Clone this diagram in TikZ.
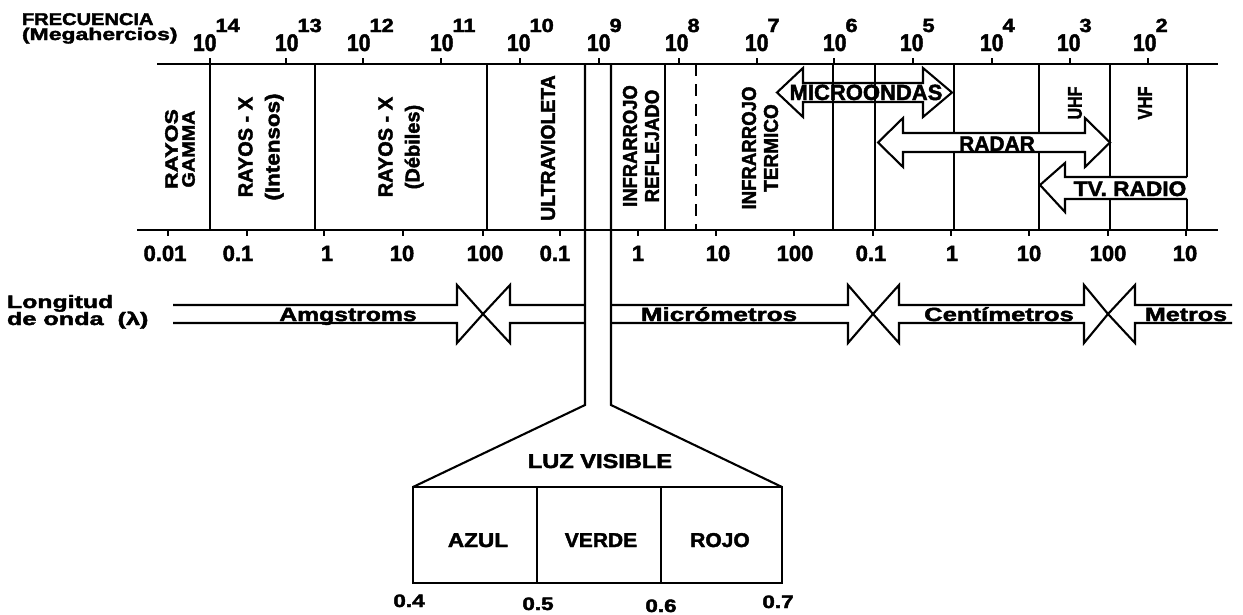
\documentclass[tikz,border=0pt]{standalone}
\usepackage{fontspec}
\setmainfont{Liberation Sans}[BoldFeatures={FakeBold=2}]
\usepackage{graphicx}
\newcommand{\sx}[2]{\scalebox{#1}[1]{#2}}
\newcommand{\fsz}[2]{\fontsize{#1}{#2}\selectfont}
\begin{document}
\begin{tikzpicture}[x=1pt,y=-1pt,line width=2.1pt,line join=miter,
  lbl/.style={inner sep=0pt,outer sep=0pt},
  fnt/.style args={#1/#2}{font=\fontsize{#1}{#2}\selectfont\bfseries},
  vlbl/.style={lbl,rotate=90,align=center},
  dsh/.style={dash pattern=on 12pt off 8pt}]
\useasboundingbox[fill=white] (0,0) rectangle (1243,614);
% axis lines and ticks
\draw (157,64) -- (1218,64);
\draw (137,230) -- (1218,230);
\foreach \x in {210,286,363,441,520,599,679,757,834,913,992,1070,1148} \draw (\x,64) -- (\x,58);
\foreach \x in {168,247,324,403,483,560,638,716,794,873,951,1029,1108,1186} \draw (\x,230) -- (\x,236);
% region separators
\foreach \x in {210,315,487,665,833,875,954,1039,1110} \draw (\x,64) -- (\x,230);
\draw (1187,64) -- (1187,177);
\draw (1187,199) -- (1187,230);
\draw[dsh] (696,64) -- (696,230);
% visible light column and box
\draw (585,64) -- (585,405) -- (413,487);
\draw (611,64) -- (611,405) -- (782,487);
\draw (413,487) rectangle (782,583);
\draw (537,487) -- (537,583);
\draw (661,487) -- (661,583);
% microondas arrow
\draw (777,92.5) -- (803,68) -- (803,83) -- (923,83) -- (923,68) -- (952,92.5) -- (923,117) -- (923,102) -- (803,102) -- (803,117) -- cycle;
% radar arrow
\draw[fill=white] (878,142.5) -- (903,118) -- (903,133) -- (1085,133) -- (1085,118) -- (1110,142.5) -- (1085,167) -- (1085,152) -- (903,152) -- (903,167) -- cycle;
% tv radio arrow
\fill[white] (1040,185) -- (1065,163) -- (1065,177) -- (1187,177) -- (1187,199) -- (1065,199) -- (1065,212) -- cycle;
\draw (1187,177) -- (1065,177) -- (1065,163) -- (1040,185) -- (1065,212) -- (1065,199) -- (1187,199);
% wavelength arrows
\draw (173,305) -- (457,305) -- (457,285) -- (483,314) -- (457,343) -- (457,323) -- (173,323);
\draw (585,305) -- (510,305) -- (510,285) -- (483,314) -- (510,343) -- (510,323) -- (585,323);
\draw (611,305) -- (848,305) -- (848,285) -- (873,314) -- (848,343) -- (848,323) -- (611,323);
\draw (873,314) -- (899,285) -- (899,305) -- (1084,305) -- (1084,285) -- (1108,314) -- (1084,343) -- (1084,323) -- (899,323) -- (899,343) -- cycle;
\draw (1232,305) -- (1135,305) -- (1135,285) -- (1108,314) -- (1135,343) -- (1135,323) -- (1232,323);
% header
\node[lbl,fnt=17/17,anchor=base west] (frec) at (22,25) {\sx{1.18}{FRECUENCIA}};
\node[lbl,fnt=17/17,anchor=base west] (mhz) at (22,40) {\sx{1.35}{(Megahercios)}};
\foreach \xl/\e [count=\i] in {193/14,275/13,347/12,430/11,507/10,587/9,665/8,745/7,823/6,900/5,980/4,1057/3,1133/2}
  \node[lbl,fnt=24/24,anchor=base west] (f\i) at (\xl,51) {\sx{0.88}{10}\kern-1pt\raisebox{19pt}{\fsz{19}{19}\sx{1.15}{\e}}};
\foreach \x/\t [count=\i] in {165/0.01,238/0.1,327/1,402/10,485/100,555/0.1,638/1,718/10,795/100,871/0.1,952/1,1029/10,1108/100,1185/10}
  \node[lbl,fnt=22/22,anchor=base] (w\i) at (\x,261) {\t};
% rotated region labels
\node[vlbl,fnt=18/17] (gamma) at (180,149) {\sx{1.28}{RAYOS}\\\sx{1.1}{GAMMA}};
\node[vlbl,fnt=20/27] (xint) at (261,147) {RAYOS - X\\\sx{1.12}{(Intensos)}};
\node[vlbl,fnt=20/27] (xdeb) at (401,147) {RAYOS - X\\(Débiles)};
\node[vlbl,fnt=20/20] (uv) at (548,148) {\sx{0.97}{ULTRAVIOLETA}};
\node[vlbl,fnt=20/22] (irr) at (641,146) {\sx{0.92}{INFRARROJO}\\\sx{0.93}{REFLEJADO}};
\node[vlbl,fnt=20/22] (irt) at (760,148) {\sx{0.93}{INFRARROJO}\\\sx{0.95}{TERMICO}};
\node[vlbl,fnt=20/20] (uhf) at (1075,103) {\sx{0.8}{UHF}};
\node[vlbl,fnt=20/20] (vhf) at (1145,103) {\sx{0.83}{VHF}};
% arrow labels
\node[lbl,fnt=22/22,anchor=base] (mw) at (866,100) {MICROONDAS};
\node[lbl,fnt=21/21,anchor=base] (radar) at (997,151) {RADAR};
\node[lbl,fnt=21/21,anchor=base] (tv) at (1130,196) {\sx{1.08}{TV. RADIO}};
\node[lbl,fnt=18/18,anchor=base west] (lon) at (7,308) {\sx{1.38}{Longitud}};
\node[lbl,fnt=18/18,anchor=base west] (onda) at (7,325) {\sx{1.4}{de onda \ (λ)}};
\node[lbl,fnt=19/19,anchor=base] (ang) at (348,321) {\sx{1.3}{Amgstroms}};
\node[lbl,fnt=19/19,anchor=base] (mic) at (719,321) {\sx{1.37}{Micrómetros}};
\node[lbl,fnt=19/19,anchor=base] (cen) at (999,321) {\sx{1.35}{Centímetros}};
\node[lbl,fnt=19/19,anchor=base] (met) at (1186,321) {\sx{1.32}{Metros}};
% visible light labels
\node[lbl,fnt=20/20,anchor=base] (luz) at (600,468) {\sx{1.18}{LUZ VISIBLE}};
\node[lbl,fnt=20/20,anchor=base] (azul) at (478,547) {\sx{1.13}{AZUL}};
\node[lbl,fnt=20/20,anchor=base] (verde) at (601,547) {\sx{1.05}{VERDE}};
\node[lbl,fnt=20/20,anchor=base] (rojo) at (720,547) {\sx{1.05}{ROJO}};
\node[lbl,fnt=18/18,anchor=base] (v4) at (409,607) {\sx{1.25}{0.4}};
\node[lbl,fnt=18/18,anchor=base] (v5) at (538,610) {\sx{1.25}{0.5}};
\node[lbl,fnt=18/18,anchor=base] (v6) at (661,612) {\sx{1.25}{0.6}};
\node[lbl,fnt=18/18,anchor=base] (v7) at (778,608) {\sx{1.25}{0.7}};
\end{tikzpicture}
\end{document}
